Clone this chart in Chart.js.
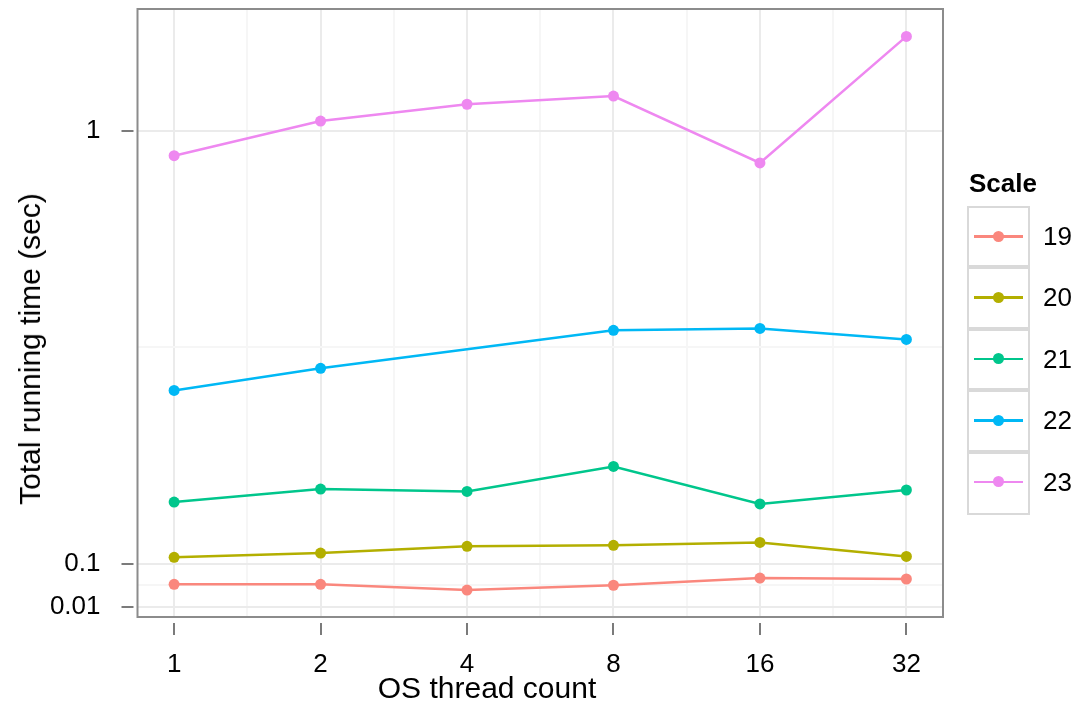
<!DOCTYPE html>
<html>
<head>
<meta charset="utf-8">
<script src="https://cdn.jsdelivr.net/npm/chart.js@4/dist/chart.umd.min.js"></script>
<style>
  html, body { margin: 0; padding: 0; background: #fff; }
  #wrap { position: relative; width: 1078px; height: 708px; font-family: 'Liberation Sans', Arial, Helvetica, sans-serif; }
  #chart { position: absolute; left: 0; top: 0; }
  #xtitle { position: absolute; left: 487px; top: 688px; transform: translate(-50%, -50%); font-size: 30px; color: #000; white-space: nowrap; }
  #ytitle { position: absolute; left: 30px; top: 349px; transform: translate(-50%, -50%) rotate(-90deg); font-size: 30px; color: #000; white-space: nowrap; }
  #legend { position: absolute; left: 967px; top: 166px; }
  #legend .ttl { font-weight: bold; font-size: 26px; margin-left: 2px; height: 40px; line-height: 34px; }
  #legend .row { position: relative; height: 61.4px; }
  #legend .box { position: absolute; left: 0; top: 0; width: 59px; height: 59.4px; border: 2px solid #d9d9d9; }
  #legend .row + .row .box { top: -2px; height: 61.4px; }
  #legend .ln { position: absolute; left: 7px; top: 29px; width: 49px; height: 2.5px; }
  #legend .pt { position: absolute; left: 26px; top: 24.5px; width: 11px; height: 11px; border-radius: 50%; }
  #legend .lab { position: absolute; left: 76px; top: 0; height: 61.4px; line-height: 61.4px; font-size: 26px; }
</style>
</head>
<body>
<div id="wrap">
  <canvas id="chart" width="1078" height="708"></canvas>
  <div id="xtitle">OS thread count</div>
  <div id="ytitle">Total running time (sec)</div>
  <div id="legend"></div>
</div>
<script>
// ── Data ──
const threads = [1, 2, 4, 8, 16, 32];
const scales = ['19', '20', '21', '22', '23'];
const time19 = [0.057, 0.057, 0.045, 0.055, 0.070, 0.068];
const time20 = [0.113, 0.122, 0.136, 0.138, 0.144, 0.115];
const time21 = [0.228, 0.255, 0.250, 0.302, 0.224, 0.253];
const time22 = [0.460, 0.506, null, 0.585, 0.589, 0.566];
const time23 = [0.948, 1.020, 1.055, 1.072, 0.933, 1.196];
const yMajor = [0.01, 0.1, 1];
const yMinor = [0.055, 0.55];
const xMinor = [Math.SQRT2, 2 * Math.SQRT2, 4 * Math.SQRT2, 8 * Math.SQRT2, 16 * Math.SQRT2];

const colors = ['#FA877D', '#B3AF00', '#00C68C', '#00B8F5', '#EE88F0'];
const series = [time19, time20, time21, time22, time23];
const FONT = "'Liberation Sans', Arial, Helvetica, sans-serif";

const panelBorder = {
  id: 'panelBorder',
  afterDatasetsDraw(chart) {
    const { ctx, chartArea: a } = chart;
    ctx.save();
    ctx.strokeStyle = '#8c8c8c';
    ctx.lineWidth = 2;
    ctx.strokeRect(a.left, a.top, a.right - a.left, a.bottom - a.top);
    ctx.restore();
  }
};

const gridColor = (majors) => (c) => (c.tick && majors.includes(c.tick.value) ? '#ebebeb' : '#f6f6f6');
const tickColor = (majors) => (c) => (c.tick && majors.includes(c.tick.value) ? '#333' : 'rgba(0,0,0,0)');
const noPad = (s) => { s.paddingTop = 0; s.paddingBottom = 0; s.paddingLeft = 0; s.paddingRight = 0; };

const chart = new Chart(document.getElementById('chart'), {
  type: 'line',
  data: {
    datasets: series.map((vals, i) => ({
      label: scales[i],
      data: threads.map((t, j) => ({ x: t, y: vals[j] })),
      borderColor: colors[i],
      backgroundColor: colors[i],
      pointBackgroundColor: colors[i],
      pointBorderWidth: 0,
      pointRadius: 5.5,
      borderWidth: 2.5,
      spanGaps: true,
      tension: 0,
    }))
  },
  options: {
    responsive: false,
    animation: false,
    layout: { padding: { top: 9, right: 135, left: 0, bottom: 0 } },
    plugins: { legend: { display: false }, tooltip: { enabled: false } },
    scales: {
      x: {
        type: 'logarithmic',
        min: Math.pow(2, -0.25),
        max: Math.pow(2, 5.25),
        afterBuildTicks: (s) => { s.ticks = threads.concat(xMinor).sort((a, b) => a - b).map(v => ({ value: v })); },
        afterFit: (s) => { s.height = 91; noPad(s); },
        ticks: {
          color: '#000', font: { size: 26, family: FONT }, padding: 14, maxRotation: 0, autoSkip: false,
          callback: (v) => (threads.includes(v) ? String(v) : '')
        },
        grid: {
          color: gridColor(threads), lineWidth: 2, drawTicks: true, tickLength: 18,
          tickColor: tickColor(threads), tickWidth: 1.3, tickBorderDash: [12, 6], tickBorderDashOffset: 12
        },
        border: { display: false }
      },
      y: {
        type: 'linear',
        min: -0.011,
        max: 1.253,
        afterBuildTicks: (s) => { s.ticks = yMajor.concat(yMinor).sort((a, b) => a - b).map(v => ({ value: v })); },
        afterFit: (s) => { s.width = 137.5; noPad(s); },
        ticks: {
          color: '#000', font: { size: 26, family: FONT }, padding: 21, autoSkip: false,
          callback: (v) => (yMajor.includes(v) ? String(v) : '')
        },
        grid: {
          color: gridColor(yMajor), lineWidth: 2, drawTicks: true, tickLength: 16,
          tickColor: tickColor(yMajor), tickWidth: 1.3, tickBorderDash: [12, 100]
        },
        border: { display: false }
      }
    }
  },
  plugins: [panelBorder]
});

// ── Legend ──
const legendEl = document.getElementById('legend');
let html = '<div class="ttl">Scale</div>';
chart.data.datasets.forEach((ds) => {
  html += '<div class="row"><div class="box"></div>' +
    '<div class="ln" style="background:' + ds.borderColor + '"></div>' +
    '<div class="pt" style="background:' + ds.borderColor + '"></div>' +
    '<div class="lab">' + ds.label + '</div></div>';
});
legendEl.innerHTML = html;
</script>
</body>
</html>
